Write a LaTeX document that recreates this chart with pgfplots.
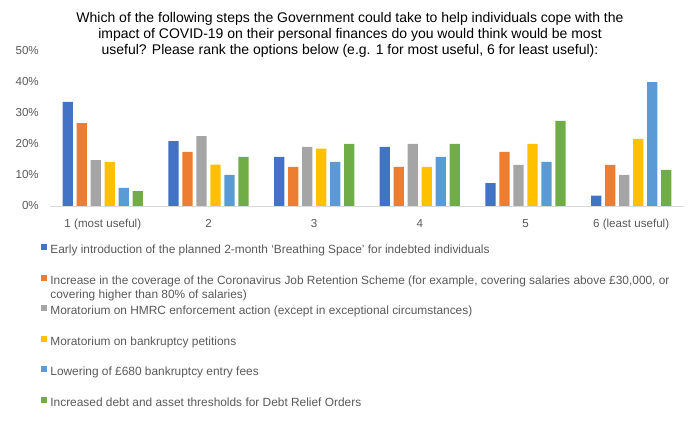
\documentclass[border=0pt]{standalone}
\usepackage{fontspec}
\setmainfont{Liberation Sans}
\usepackage{pgfplots}
\pgfplotsset{compat=1.18}

\definecolor{c1}{HTML}{4472C4}
\definecolor{c2}{HTML}{ED7D31}
\definecolor{c3}{HTML}{A5A5A5}
\definecolor{c4}{HTML}{FFC000}
\definecolor{c5}{HTML}{5B9BD5}
\definecolor{c6}{HTML}{70AD47}
\definecolor{txt}{HTML}{595959}
\definecolor{axl}{HTML}{D9D9D9}

\pgfplotsset{sq legend/.style={legend image code/.code={\fill[##1] (0pt,0.5pt) rectangle (6pt,6.5pt);}}}

\begin{document}
\begin{tikzpicture}
\path[use as bounding box] (0,0) rectangle (699pt,430pt);
\node[align=center, font=\fontsize{14}{16}\selectfont] at (350pt,395.5pt)
  {Which of the following steps the Government could take to help individuals cope with the\\
   impact of COVID-19 on their personal finances do you would think would be most\\
   useful? Please rank the options below (e.g. 1 for most useful, 6 for least useful):};
\begin{axis}[
    at={(50pt,224pt)}, anchor=south west,
    scale only axis, width=634pt, height=155.3pt,
    ybar, bar width=0.097,
    xmin=-0.5, xmax=5.5, ymin=0, ymax=50,
    axis x line*=bottom, axis y line*=left,
    x axis line style={draw=axl, line width=0.8pt, -},
    y axis line style={draw=none},
    tick style={draw=none},
    xtick={0,...,5},
    xticklabels={1 (most useful),2,3,4,5,6 (least useful)},
    ytick={0,10,...,50},
    yticklabels={0\%,10\%,20\%,30\%,40\%,50\%},
    xticklabel style={font=\fontsize{11.6}{13}\selectfont, text=txt, inner sep=0pt, anchor=north, yshift=-9pt},
    yticklabel style={font=\fontsize{11.6}{13}\selectfont, text=txt, inner sep=0pt, anchor=east, xshift=-11pt},
    legend style={at={(rel axis cs:-0.0147,-0.2447)}, anchor=north west, draw=none, fill=none,
        inner sep=0pt, row sep=19pt, column sep=3.5pt,
        font=\fontsize{11.9}{14}\selectfont, text=txt,
        nodes={inner sep=0pt, text height=8pt, text depth=2pt}},
    legend cell align=left,
]
\addplot[fill=c1, draw=none, bar shift=-0.331, sq legend] coordinates {(0,33.5) (1,20.9) (2,15.8) (3,19.0) (4,7.4) (5,3.3)};
\addplot[fill=c2, draw=none, bar shift=-0.199, sq legend] coordinates {(0,26.7) (1,17.4) (2,12.6) (3,12.6) (4,17.4) (5,13.2)};
\addplot[fill=c3, draw=none, bar shift=-0.066, sq legend] coordinates {(0,14.8) (1,22.5) (2,19.0) (3,20.0) (4,13.2) (5,10.0)};
\addplot[fill=c4, draw=none, bar shift=0.066, sq legend] coordinates {(0,14.2) (1,13.3) (2,18.5) (3,12.6) (4,20.0) (5,21.6)};
\addplot[fill=c5, draw=none, bar shift=0.199, sq legend] coordinates {(0,5.8) (1,10.0) (2,14.2) (3,15.8) (4,14.2) (5,39.9)};
\addplot[fill=c6, draw=none, bar shift=0.331, sq legend] coordinates {(0,4.8) (1,15.8) (2,20.0) (3,20.0) (4,27.4) (5,11.6)};
\legend{Early introduction of the planned 2-month ‘Breathing Space’ for indebted individuals,
  {\parbox[t]{660pt}{\raggedright Increase in the coverage of the Coronavirus Job Retention Scheme (for example, covering salaries above £30,000, or\\covering higher than 80\% of salaries)}},
  Moratorium on HMRC enforcement action (except in exceptional circumstances),
  Moratorium on bankruptcy petitions,
  Lowering of £680 bankruptcy entry fees,
  Increased debt and asset thresholds for Debt Relief Orders}
\end{axis}
\end{tikzpicture}
\end{document}
